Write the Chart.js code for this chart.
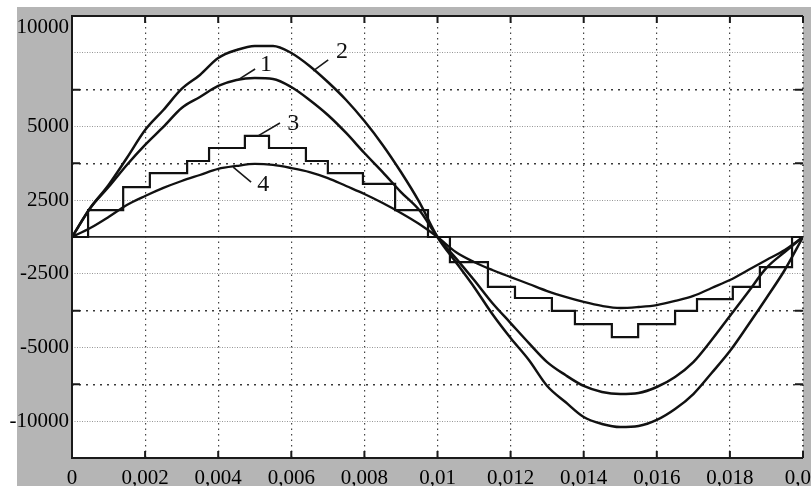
<!DOCTYPE html>
<html>
<head>
<meta charset="utf-8">
<script src="https://cdn.jsdelivr.net/npm/chart.js@4.4.1/dist/chart.umd.min.js"></script>
<style>
    html, body { margin: 0; padding: 0; background: #fff; overflow: hidden; }
</style>
</head>
<body>
<canvas id="myChart" width="811" height="486"></canvas>
<script>
// time axis (s), sampled every 0.5 ms
var timeS = [0, 0.0005, 0.001, 0.0015, 0.002, 0.0025, 0.003, 0.0035, 0.004, 0.0045,
             0.005, 0.0055, 0.006, 0.0065, 0.007, 0.0075, 0.008, 0.0085, 0.009, 0.0095,
             0.01, 0.0105, 0.011, 0.0115, 0.012, 0.0125, 0.013, 0.0135, 0.014, 0.0145,
             0.015, 0.0155, 0.016, 0.0165, 0.017, 0.0175, 0.018, 0.0185, 0.019, 0.0195, 0.02];

// curve 1
var curve1Values = [0, 1970, 3390, 4890, 6250, 7470, 8760, 9500, 10250, 10660,
                    10790, 10730, 10180, 9300, 8280, 7060, 5700, 4410, 3050, 1830,
                    0, -1430, -2920, -4480, -5840, -7200, -8490, -9370, -10110, -10520,
                    -10660, -10590, -10180, -9500, -8490, -6990, -5360, -3730, -2100, -1020, 0];
// curve 2
var curve2Values = [0, 1970, 3530, 5360, 7260, 8620, 10050, 11000, 12150, 12690,
                    12970, 12970, 12490, 11610, 10520, 9300, 7870, 6250, 4410, 2380,
                    0, -1700, -3390, -5230, -6860, -8350, -10110, -11200, -12220, -12690,
                    -12900, -12830, -12420, -11680, -10660, -9230, -7740, -5970, -4140, -2240, 0];
// curve 4
var curve4Values = [0, 610, 1360, 2170, 2780, 3330, 3800, 4210, 4620, 4820,
                    4960, 4890, 4680, 4410, 4000, 3460, 2920, 2310, 1630, 880,
                    0, -1020, -1700, -2240, -2720, -3190, -3670, -4070, -4410, -4680,
                    -4820, -4750, -4620, -4340, -4000, -3460, -2920, -2240, -1560, -880, 0];

// curve 3 : staircase, level starts at the given time
var stepTimes = [0, 0.00044, 0.0014, 0.00213, 0.00315, 0.00375, 0.00473, 0.00539, 0.0064, 0.007,
                 0.00796, 0.00884, 0.00974, 0.01034, 0.01138, 0.01212, 0.01313, 0.01376, 0.01477,
                 0.01549, 0.0165, 0.0171, 0.01808, 0.01882, 0.0197, 0.02];
var stepValues = [0, 1830, 3390, 4340, 5160, 6040, 6860, 6040, 5160, 4340,
                  3600, 1830, 0, -1700, -3390, -4140, -5020, -5910, -6790,
                  -5910, -5020, -4210, -3390, -2040, 0, 0];

var xTickValues = [0, 0.002, 0.004, 0.006, 0.008, 0.01, 0.012, 0.014, 0.016, 0.018, 0.02];
var xTickLabels = ['0', '0,002', '0,004', '0,006', '0,008', '0,01', '0,012', '0,014', '0,016', '0,018', '0,02'];

var yTickValues = [-15000, -12500, -10000, -7500, -5000, -2500, 0, 2500, 5000, 7500, 10000, 12500, 14250, 15000];
var yTickLabels = ['', '-10000', '', '-5000', '', '-2500', '', '2500', '', '5000', '', '', '10000', ''];

// curve numbers with their leader lines (data coordinates)
var noteLabels = ['1', '2', '3', '4'];
var notePos = [[0.00531, 11675], [0.00739, 12560], [0.00605, 7670], [0.00523, 3530]];
var noteLeaders = [
    [[0.00454, 10660], [0.00501, 11400]],
    [[0.0066, 11270], [0.00701, 12020]],
    [[0.00509, 6860], [0.00569, 7740]],
    [[0.00441, 4750], [0.0049, 3730]]
];

var serif = '"Liberation Serif", "Times New Roman", serif';

function pairs(xs, ys) {
    var out = [];
    for (var i = 0; i < xs.length; i++) {
        out.push({x: xs[i], y: ys[i]});
    }
    return out;
}

function gridKind(v) {
    if (v === 0) return 'zero';
    if (v === 14250 || Math.abs(v) === 15000) return 'none';
    if ((Math.abs(v) / 2500) % 2 === 1) return 'fine';
    return 'coarse';
}

var framePlugin = {
    id: 'frame',
    beforeDraw: function (chart) {
        var ctx = chart.ctx, a = chart.chartArea;
        ctx.save();
        ctx.fillStyle = '#fff';
        ctx.fillRect(0, 0, chart.width, chart.height);
        ctx.fillStyle = '#b5b5b5';
        ctx.fillRect(17, 7, chart.width - 17, chart.height - 7);
        ctx.fillStyle = '#fff';
        ctx.fillRect(a.left, a.top, a.right - a.left, a.bottom - a.top);
        ctx.restore();
    },
    afterDraw: function (chart) {
        var ctx = chart.ctx, a = chart.chartArea;
        var xs = chart.scales.x, ys = chart.scales.y;
        ctx.save();
        ctx.strokeStyle = '#1a1a1a';
        ctx.lineWidth = 2;
        ctx.beginPath();
        ctx.moveTo(a.right, a.top);
        ctx.lineTo(a.left, a.top);
        ctx.lineTo(a.left, a.bottom);
        ctx.lineTo(a.right, a.bottom);
        ctx.stroke();
        // inward tick marks
        ctx.lineWidth = 2;
        ctx.beginPath();
        xTickValues.forEach(function (v) {
            var px = xs.getPixelForValue(v);
            ctx.moveTo(px, a.bottom); ctx.lineTo(px, a.bottom - 7);
            ctx.moveTo(px, a.top); ctx.lineTo(px, a.top + 7);
        });
        yTickValues.forEach(function (v) {
            if (gridKind(v) !== 'coarse') return;
            var py = ys.getPixelForValue(v);
            ctx.moveTo(a.left, py); ctx.lineTo(a.left + 8, py);
            ctx.moveTo(a.right, py); ctx.lineTo(a.right - 8, py);
        });
        ctx.stroke();
        // curve numbers
        ctx.lineWidth = 1.6;
        ctx.beginPath();
        noteLeaders.forEach(function (l) {
            ctx.moveTo(xs.getPixelForValue(l[0][0]), ys.getPixelForValue(l[0][1]));
            ctx.lineTo(xs.getPixelForValue(l[1][0]), ys.getPixelForValue(l[1][1]));
        });
        ctx.stroke();
        ctx.fillStyle = '#111';
        ctx.font = '24px ' + serif;
        ctx.textAlign = 'center';
        ctx.textBaseline = 'middle';
        noteLabels.forEach(function (t, i) {
            ctx.fillText(t, xs.getPixelForValue(notePos[i][0]), ys.getPixelForValue(notePos[i][1]));
        });
        ctx.restore();
    }
};

function lineSet(label, data, width) {
    return {
        label: label,
        data: data,
        borderColor: '#111',
        borderWidth: width,
        pointRadius: 0,
        fill: false,
        cubicInterpolationMode: 'monotone'
    };
}

new Chart(document.getElementById('myChart'), {
    type: 'line',
    data: {
        datasets: [
            lineSet('1', pairs(timeS, curve1Values), 2.5),
            lineSet('2', pairs(timeS, curve2Values), 2.5),
            {
                label: '3',
                data: pairs(stepTimes, stepValues),
                borderColor: '#111',
                borderWidth: 2.2,
                pointRadius: 0,
                fill: false,
                stepped: true
            },
            lineSet('4', pairs(timeS, curve4Values), 2.3)
        ]
    },
    options: {
        responsive: false,
        animation: false,
        layout: {padding: {top: 16, right: 8, bottom: 0, left: 0}},
        plugins: {legend: {display: false}, tooltip: {enabled: false}},
        scales: {
            x: {
                type: 'linear',
                min: 0,
                max: 0.02,
                afterBuildTicks: function (s) {
                    s.ticks = xTickValues.map(function (v) { return {value: v}; });
                },
                afterFit: function (s) {
                    s.height = 28;
                    s.paddingLeft = 0;
                    s.paddingRight = 0;
                },
                ticks: {
                    autoSkip: false,
                    maxRotation: 0,
                    padding: 8,
                    color: '#000',
                    font: {family: serif, size: 21},
                    callback: function (v, i) { return xTickLabels[i]; }
                },
                grid: {
                    drawTicks: false,
                    color: function (c) {
                        return c.tick && c.tick.value === 0 ? 'rgba(0,0,0,0)' : '#444';
                    },
                    lineWidth: function (c) {
                        return c.tick && c.tick.value === 0.02 ? 2 : 1.2;
                    }
                },
                border: {display: false, dash: [1.5, 4]}
            },
            y: {
                min: -15000,
                max: 15000,
                afterBuildTicks: function (s) {
                    s.ticks = yTickValues.map(function (v) { return {value: v}; });
                },
                afterFit: function (s) {
                    s.width = 72;
                    s.paddingTop = 0;
                    s.paddingBottom = 0;
                },
                ticks: {
                    autoSkip: false,
                    padding: 3,
                    color: '#000',
                    font: {family: serif, size: 21},
                    callback: function (v, i) { return yTickLabels[i]; }
                },
                grid: {
                    drawTicks: false,
                    color: function (c) {
                        var k = gridKind(c.tick ? c.tick.value : 1);
                        if (k === 'none') return 'rgba(0,0,0,0)';
                        if (k === 'zero') return '#222';
                        if (k === 'fine') return '#8a8a8a';
                        return '#3a3a3a';
                    },
                    lineWidth: function (c) {
                        var k = gridKind(c.tick ? c.tick.value : 1);
                        if (k === 'zero') return 1.8;
                        if (k === 'coarse') return 1.5;
                        return 0.9;
                    }
                },
                border: {
                    display: false,
                    dash: function (c) {
                        var k = gridKind(c.tick ? c.tick.value : 1);
                        if (k === 'zero') return [];
                        if (k === 'fine') return [1, 1.5];
                        return [2, 5];
                    }
                }
            }
        }
    },
    plugins: [framePlugin]
});
</script>
</body>
</html>
